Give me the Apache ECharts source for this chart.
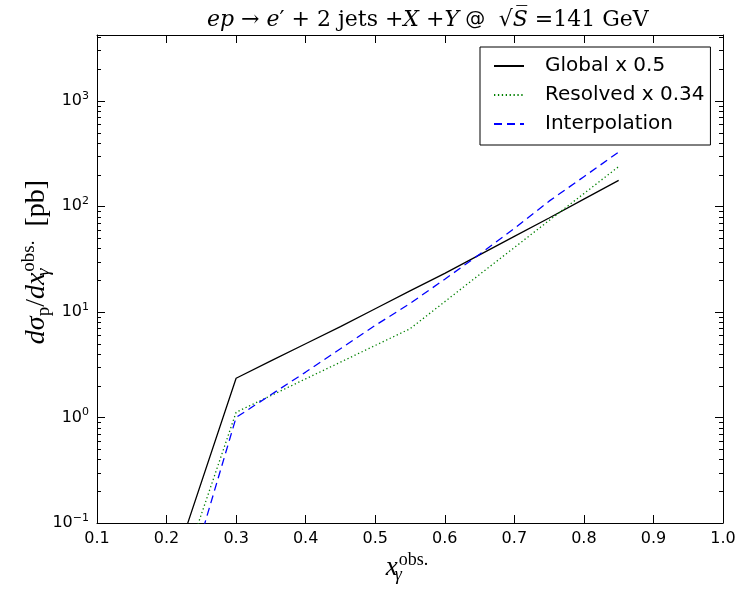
<!DOCTYPE html>
<html>
<head>
<meta charset="utf-8">
<script src="https://cdn.jsdelivr.net/npm/echarts@6/dist/echarts.min.js"></script>
<style>
html, body { margin: 0; padding: 0; background: #fff; }
#chart { width: 742px; height: 589px; }
</style>
</head>
<body>
<div id="chart"></div>
<script>
// x values (x_gamma^obs.)
var xValues = [0.2, 0.3, 0.35, 0.4, 0.45, 0.5, 0.55, 0.6, 0.65, 0.7, 0.75, 0.8, 0.85];
// cross sections [pb]
var globalVals   = [0.025, 2.35, 3.43, 4.99, 7.24, 10.7, 15.8, 23.2, 34.7, 51.9, 77.6, 117, 176];
var resolvedVals = [0.013, 1.12, 1.61, 2.32, 3.34, 4.81, 6.92, 12.5, 22.6, 40.7, 73.5, 132, 238];
var interpVals   = [0.0059, 1.0, 1.64, 2.69, 4.47, 7.45, 12.0, 20.4, 35.1, 61.7, 112, 191, 327];
var seriesNames = ['Global x 0.5', 'Resolved x 0.34', 'Interpolation'];
var yMin = 0.1, yMax = 4200;

function pairs(vals) {
	var out = [];
	for (var i = 0; i < xValues.length; i++) {
		out.push([xValues[i], vals[i]]);
	}
	return out;
}

var sans = 'DejaVu Sans';
var serif = 'DejaVu Serif';
var tserif = 'Liberation Serif';

function logLabel(v) {
	var e = Math.log10(v);
	var r = Math.round(e);
	if (Math.abs(e - r) > 1e-6) return '';
	return '{b|10}{s|' + (r < 0 ? '\u2212' + (-r) : r) + '}';
}

var tickRich = {
	b: { fontSize: 16, fontFamily: sans, color: '#000' },
	s: { fontSize: 11, fontFamily: sans, color: '#000', padding: [0, 0, 10, 0] }
};

function nameGraphics() {
	return [{
		type: 'text',
		id: 'xname',
		x: 407,
		y: 568,
		style: {
			text: '{i|x}{sub|\u03b3}{sup|obs.}',
			align: 'center',
			verticalAlign: 'middle',
			rich: {
				i: { fontSize: 27, fontFamily: tserif, fontStyle: 'italic', color: '#000' },
				sub: { fontSize: 18, fontFamily: tserif, fontStyle: 'italic', color: '#000', width: 1, padding: [14, 0, 0, 0] },
				sup: { fontSize: 18, fontFamily: tserif, color: '#000', padding: [0, 0, 16, 0] }
			}
		}
	}, {
		type: 'text',
		id: 'yname',
		x: 37,
		y: 262,
		rotation: Math.PI / 2,
		style: {
			text: '{i|d\u03c3}{sub|p}{r|/}{i|dx}{sub2|\u03b3}{sup|obs.}{r|  [pb]}',
			align: 'center',
			verticalAlign: 'middle',
			rich: {
				i: { fontSize: 28, fontFamily: tserif, fontStyle: 'italic', color: '#000' },
				r: { fontSize: 28, fontFamily: tserif, color: '#000' },
				sub: { fontSize: 19, fontFamily: tserif, color: '#000', padding: [14, 0, 0, 0] },
				sub2: { fontSize: 19, fontFamily: tserif, fontStyle: 'italic', color: '#000', width: 1, padding: [14, 0, 0, 0] },
				sup: { fontSize: 19, fontFamily: tserif, color: '#000', padding: [0, 0, 16, 0] }
			}
		}
	}];
}

var chart = echarts.init(document.getElementById('chart'));
chart.setOption({
	backgroundColor: '#fff',
	animation: false,
	title: {
		left: 202,
		top: 4,
		text: '{i|ep}{r| \u2192 }{i|e}{r|\u2032 + 2 jets +}{i|X}{r| +}{i|Y}{a| @ }{r| \u221a}{i|S\u0305}{r| =141 GeV}',
		textStyle: {
			fontWeight: 'normal',
			rich: {
				i: { fontSize: 22, fontFamily: serif, fontStyle: 'italic', fontWeight: 'normal', color: '#000' },
				r: { fontSize: 22, fontFamily: serif, fontWeight: 'normal', color: '#000' },
				a: { fontSize: 20, fontFamily: sans, fontWeight: 'normal', color: '#000' }
			}
		}
	},
	grid: { left: 97, right: 19, top: 35, bottom: 66, containLabel: false },
	legend: {
		data: seriesNames,
		orient: 'vertical',
		left: 480,
		top: 47,
		backgroundColor: '#fff',
		borderColor: '#000',
		borderWidth: 1,
		borderRadius: 0,
		padding: [9, 6, 11, 13],
		itemWidth: 30,
		itemHeight: 14,
		itemGap: 9,
		itemStyle: { opacity: 0 },
		textStyle: { fontSize: 20, fontFamily: sans, color: '#000', padding: [0, 0, 0, 16] }
	},
	xAxis: [{
		type: 'value',
		min: 0.1,
		max: 1.0,
		interval: 0.1,
		axisLine: { lineStyle: { color: '#000', width: 1 } },
		axisTick: { inside: true, length: 8, lineStyle: { color: '#000' } },
		axisLabel: {
			margin: 8, fontSize: 16, fontFamily: sans, color: '#000',
			formatter: function (v) { return v.toFixed(1); }
		},
		splitLine: { show: false }
	}, {
		type: 'value',
		position: 'top',
		min: 0.1,
		max: 1.0,
		interval: 0.1,
		axisLine: { lineStyle: { color: '#000', width: 1 } },
		axisTick: { inside: true, length: 8, lineStyle: { color: '#000' } },
		axisLabel: { show: false },
		splitLine: { show: false }
	}],
	yAxis: [{
		type: 'log',
		logBase: 10,
		min: yMin,
		max: yMax,
		axisLine: { show: true, lineStyle: { color: '#000', width: 1 } },
		axisTick: { show: true, inside: true, length: 8, lineStyle: { color: '#000' } },
		axisLabel: { margin: 8, formatter: logLabel, rich: tickRich },
		splitLine: { show: false }
	}, {
		type: 'log',
		logBase: 10,
		min: yMin,
		max: yMax,
		position: 'right',
		axisLine: { show: true, lineStyle: { color: '#000', width: 1 } },
		axisTick: { show: true, inside: true, length: 8, lineStyle: { color: '#000' } },
		axisLabel: { show: false },
		splitLine: { show: false }
	}],
	series: [{
		name: seriesNames[0],
		type: 'line',
		data: pairs(globalVals),
		symbol: 'none',
		clip: true,
		lineStyle: { color: '#000000', width: 1.3, type: 'solid' },
		itemStyle: { color: '#000000' }
	}, {
		name: seriesNames[1],
		type: 'line',
		data: pairs(resolvedVals),
		symbol: 'none',
		clip: true,
		lineStyle: { color: '#008000', width: 1.3, type: [1.3, 2.6] },
		itemStyle: { color: '#008000' }
	}, {
		name: seriesNames[2],
		type: 'line',
		data: pairs(interpVals),
		symbol: 'none',
		clip: true,
		lineStyle: { color: '#0000ff', width: 1.3, type: [8, 5] },
		itemStyle: { color: '#0000ff' }
	}]
});

// log minor ticks (2..9 per decade) on left and right sides, placed through the axis scale
var leftX = chart.convertToPixel({ xAxisIndex: 0 }, 0.1);
var rightX = chart.convertToPixel({ xAxisIndex: 0 }, 1.0);
var elems = nameGraphics();
for (var d = -1; d <= 3; d++) {
	for (var k = 2; k <= 9; k++) {
		var v = k * Math.pow(10, d);
		if (v <= yMin || v >= yMax) continue;
		var py = Math.round(chart.convertToPixel({ yAxisIndex: 0 }, v)) + 0.5;
		elems.push({ type: 'line', id: 'ml' + d + '_' + k, silent: true, z: 10,
			shape: { x1: leftX, y1: py, x2: leftX + 4, y2: py }, style: { stroke: '#000', lineWidth: 1 } });
		elems.push({ type: 'line', id: 'mr' + d + '_' + k, silent: true, z: 10,
			shape: { x1: rightX - 4, y1: py, x2: rightX, y2: py }, style: { stroke: '#000', lineWidth: 1 } });
	}
}
chart.setOption({ graphic: { elements: elems } });
</script>
</body>
</html>
